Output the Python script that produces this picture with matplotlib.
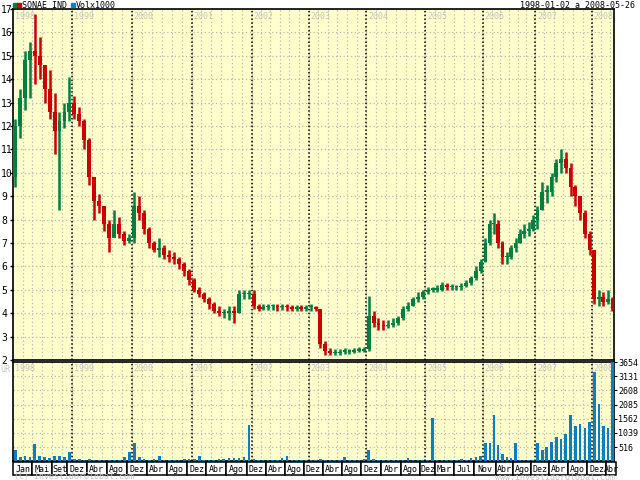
import matplotlib
matplotlib.use("Agg")
import matplotlib.pyplot as plt
import matplotlib.dates as mdates
import matplotlib.transforms as mtrans
from matplotlib.patches import Rectangle
import numpy as np
import pandas as pd

# monthly bars, Jan 1998 .. May 2008
months = pd.date_range("1998-01-01", "2008-05-01", freq="MS")
first_open = 9.8
close = [
    12.0, 13.2, 14.8, 15.2, 15.0, 14.6, 13.6, 12.6, 11.8, 12.2, 12.6, 13.0,  # 1998
    12.5, 12.2, 11.4, 9.8, 8.8, 8.6, 7.8, 7.2, 7.8, 7.4, 7.1, 7.2,           # 1999
    8.6, 8.3, 7.6, 7.0, 6.7, 6.8, 6.5, 6.4, 6.3, 6.1, 5.8, 5.4,              # 2000
    5.0, 4.8, 4.6, 4.4, 4.1, 4.0, 4.0, 4.1, 4.0, 4.8, 4.8, 4.8,              # 2001
    4.3, 4.2, 4.25, 4.3, 4.3, 4.25, 4.3, 4.25, 4.2, 4.25, 4.2, 4.25,         # 2002
    4.25, 4.2, 2.7, 2.4, 2.3, 2.3, 2.35, 2.35, 2.35, 2.4, 2.4, 2.45,         # 2003
    3.9, 3.6, 3.5, 3.45, 3.5, 3.6, 3.8, 4.2, 4.3, 4.6, 4.7, 4.9,             # 2004
    5.0, 5.0, 5.0, 5.2, 5.1, 5.1, 5.1, 5.15, 5.3, 5.5, 5.8, 6.2,             # 2005
    7.0, 7.8, 7.8, 7.0, 6.4, 6.4, 6.8, 7.0, 7.4, 7.5, 7.6, 8.0,              # 2006
    8.4, 9.2, 9.2, 9.8, 10.4, 10.6, 10.2, 9.4, 9.0, 8.3, 7.4, 6.7,           # 2007
    4.6, 4.7, 4.5, 4.6, 4.2,                                                 # 2008
]
high = [
    12.3, 13.6, 15.2, 15.6, 16.8, 15.8, 14.6, 14.4, 13.4, 12.6, 13.0, 14.1,
    13.3, 12.8, 12.3, 11.5, 9.8, 9.1, 8.6, 8.0, 8.4, 8.1, 7.5, 7.4,
    9.2, 9.0, 8.4, 7.7, 7.1, 7.2, 6.9, 6.7, 6.6, 6.4, 6.2, 5.9,
    5.5, 5.1, 4.9, 4.7, 4.5, 4.3, 4.2, 4.3, 4.3, 5.0, 5.0, 5.0,
    5.0, 4.4, 4.4, 4.4, 4.4, 4.4, 4.4, 4.4, 4.35, 4.35, 4.35, 4.35,
    4.4, 4.3, 4.2, 2.8, 2.5, 2.45, 2.45, 2.5, 2.45, 2.5, 2.55, 2.55,
    4.75, 4.1, 3.8, 3.7, 3.7, 3.8, 3.9, 4.3, 4.5, 4.7, 4.9, 5.0,
    5.1, 5.1, 5.2, 5.35, 5.3, 5.25, 5.2, 5.3, 5.4, 5.6, 6.0, 6.3,
    7.2, 8.0, 8.3, 8.0, 7.1, 6.6, 6.9, 7.2, 7.6, 7.8, 7.9, 8.2,
    8.6, 9.6, 9.5, 10.0, 10.6, 11.0, 10.9, 10.4, 9.5, 9.0, 8.4, 7.5,
    6.7, 5.0, 4.9, 5.0, 4.7,
]
low = [
    9.4, 11.5, 12.7, 13.2, 13.8, 14.0, 13.0, 12.3, 10.8, 8.4, 11.9, 12.2,
    12.3, 12.0, 11.0, 9.5, 8.0, 8.3, 7.5, 6.6, 7.3, 7.2, 6.9, 7.0,
    7.0, 8.0, 7.4, 6.8, 6.6, 6.4, 6.3, 6.2, 6.1, 5.9, 5.6, 5.2,
    4.9, 4.7, 4.5, 4.2, 4.0, 3.9, 3.8, 3.7, 3.6, 4.0, 4.6, 4.6,
    4.2, 4.1, 4.15, 4.15, 4.15, 4.1, 4.15, 4.1, 4.1, 4.1, 4.1, 4.1,
    4.1, 4.1, 2.5, 2.2, 2.2, 2.2, 2.2, 2.25, 2.25, 2.3, 2.35, 2.35,
    2.4, 3.4, 3.3, 3.3, 3.35, 3.4, 3.5, 3.7, 4.1, 4.3, 4.5, 4.6,
    4.8, 4.9, 4.9, 4.95, 5.0, 5.0, 5.0, 5.0, 5.1, 5.2, 5.4, 5.7,
    6.2, 6.9, 7.4, 6.8, 6.1, 6.1, 6.3, 6.6, 7.0, 7.2, 7.3, 7.5,
    7.6, 8.4, 8.7, 9.0, 9.6, 10.0, 10.0, 9.0, 8.6, 8.0, 7.2, 6.5,
    4.4, 4.3, 4.3, 4.4, 4.1,
]
volume = [
    400, 150, 200, 150, 620, 200, 150, 120, 200, 180, 150, 350,
    80, 60, 50, 60, 50, 40, 40, 40, 40, 50, 150, 350,
    670, 150, 60, 50, 60, 170, 40, 40, 30, 40, 60, 80,
    60, 180, 40, 40, 50, 60, 60, 110, 110, 100, 150, 1320,
    80, 40, 40, 50, 40, 40, 110, 200, 40, 40, 30, 30,
    30, 30, 80, 40, 30, 30, 30, 150, 30, 30, 40, 60,
    400, 60, 40, 30, 30, 40, 30, 30, 120, 40, 30, 30,
    30, 1580, 30, 20, 20, 30, 30, 60, 30, 100, 150, 200,
    660, 650, 1690, 600, 250, 150, 100, 650, 30, 20, 20, 20,
    650, 400, 500, 700, 900, 800, 1000, 1700, 1300, 1350, 1200, 1450,
    3300, 2100, 1300, 1200, 3654,
]
price_ticks = list(range(2, 18))
vol_ticks = [516, 1039, 1562, 2085, 2608, 3131, 3654]
years = list(range(1998, 2009))
box_labels = ["Jan", "Mai", "Set", "Dez", "Abr", "Ago", "Dez", "Abr", "Ago", "Dez",
              "Abr", "Ago", "Dez", "Abr", "Ago", "Dez", "Abr", "Ago", "Dez", "Abr",
              "Ago", "Dez", "Mar", "Jul", "Nov", "Abr", "Ago", "Dez", "Abr", "Ago",
              "Dez", "Abr"]
box_starts = ["1998-01", "1998-05", "1998-09", "1998-12", "1999-04", "1999-08", "1999-12",
              "2000-04", "2000-08", "2000-12", "2001-04", "2001-08", "2001-12", "2002-04",
              "2002-08", "2002-12", "2003-04", "2003-08", "2003-12", "2004-04", "2004-08",
              "2004-12", "2005-03", "2005-07", "2005-11", "2006-04", "2006-08", "2006-12",
              "2007-04", "2007-08", "2007-12", "2008-04"]

START, END = pd.Timestamp("1998-01-01"), pd.Timestamp("2008-05-27")

# the source chart is spaced by trading day, so year widths differ a little
anchor_d = mdates.date2num([pd.Timestamp(f"{y}-01-01") for y in years] + [END])
anchor_p = np.array([13, 72, 132, 192, 252, 309, 367, 426, 484, 536, 593, 615], float)
slope = 58.0 / 365.0


def fwd(x):
    x = np.asarray(x, float)
    y = np.interp(x, anchor_d, anchor_p)
    y = y + np.where(x > anchor_d[-1], (x - anchor_d[-1]) * slope, 0)
    y = y + np.where(x < anchor_d[0], (x - anchor_d[0]) * slope, 0)
    return y


def inv(p):
    p = np.asarray(p, float)
    x = np.interp(p, anchor_p, anchor_d)
    x = x + np.where(p > anchor_p[-1], (p - anchor_p[-1]) / slope, 0)
    x = x + np.where(p < anchor_p[0], (p - anchor_p[0]) / slope, 0)
    return x


MONO = "DejaVu Sans Mono"
BG = "#ffffcc"
GRID = "#b8b8b8"
GREY_TXT = "#c4c4c4"
GREEN, RED, BLUE = "#008040", "#cc0000", "#0a80c4"
FS = 6
plt.rcParams["font.family"] = MONO

fig = plt.figure(figsize=(6.4, 4.8), dpi=100)
W, H = 640.0, 480.0
ax = fig.add_axes([13 / W, 1 - 360 / H, 601 / W, 351 / H])
axv = fig.add_axes([13 / W, 1 - 461 / H, 601 / W, 99 / H])
axm = fig.add_axes([13 / W, 1 - 475 / H, 601 / W, 13 / H])

x = mdates.date2num(months + pd.Timedelta(days=15))
opens = [first_open] + close[:-1]
cols = [GREEN if c >= o else RED for o, c in zip(opens, close)]

for a in (ax, axv, axm):
    a.set_xscale("function", functions=(fwd, inv))
    a.set_xlim(mdates.date2num(START), mdates.date2num(END))

# price panel
ax.set_facecolor(BG)
ax.vlines(x, low, high, colors=cols, lw=1.8, zorder=3)
body_lo = np.minimum(opens, close)
body_h = np.maximum(np.abs(np.array(close) - np.array(opens)), 0.06)
ax.bar(x, body_h, bottom=body_lo, width=24, color=cols, zorder=3)
ax.set_ylim(2, 17)
ax.set_yticks(price_ticks)
ax.set_yticklabels([str(v) for v in price_ticks])
ax.tick_params(axis="y", length=2.2, pad=6.4, labelsize=FS + 1, width=1)
for lbl in ax.get_yticklabels():
    lbl.set_horizontalalignment("left")
ax.yaxis.grid(True, ls=(0, (1, 2)), color=GRID, lw=0.9)

# volume panel
axv.set_facecolor(BG)
axv.bar(x, volume, width=17, color=BLUE, zorder=3)
axv.set_ylim(0, 3654)
axv.set_yticks(vol_ticks)
axv.yaxis.tick_right()
axv.tick_params(axis="y", length=2, pad=1, labelsize=FS)
axv.yaxis.grid(True, ls=(0, (1, 2)), color=GRID, lw=0.9)

for a in (ax, axv):
    a.set_xticks(mdates.date2num(pd.date_range("1998-03-01", "2008-05-01", freq="2MS")))
    a.tick_params(axis="x", labelbottom=False, length=0)
    a.xaxis.grid(True, ls=(0, (1, 2)), color=GRID, lw=0.9)
    for y in years[1:]:
        a.axvline(mdates.date2num(pd.Timestamp(f"{y}-01-01")), color="black",
                  ls=(0, (1, 1.5)), lw=1.1, zorder=2)
    for s in a.spines.values():
        s.set_linewidth(1.2)

tr_p = mtrans.blended_transform_factory(ax.transData, ax.transAxes)
tr_v = mtrans.blended_transform_factory(axv.transData, axv.transAxes)
for y in years:
    xd = mdates.date2num(pd.Timestamp(f"{y}-01-01") + pd.Timedelta(days=12))
    ax.text(xd, 0.992, str(y), transform=tr_p, color=GREY_TXT, fontsize=FS,
            va="top", ha="left", zorder=1)
    axv.text(xd, 0.975, str(y), transform=tr_v, color=GREY_TXT, fontsize=FS,
             va="top", ha="left", zorder=1)

# month strip
axm.set_ylim(0, 1)
axm.axis("off")
edges = list(mdates.date2num(pd.to_datetime(box_starts))) + [mdates.date2num(pd.Timestamp("2008-06-10"))]
for lab, x0, x1 in zip(box_labels, edges[:-1], edges[1:]):
    axm.add_patch(Rectangle((x0, 0), x1 - x0, 1, facecolor="white", edgecolor="black",
                            lw=1.1, clip_on=False))
    axm.text((x0 + x1) / 2, 0.45, lab, ha="center", va="center", fontsize=FS, clip_on=False)

# header / footer
for xp, c in ((13, GREEN), (17, RED), (71, BLUE)):
    fig.add_artist(Rectangle((xp / W, 1 - 7 / H), 4 / W, 4 / H, color=c,
                             transform=fig.transFigure))
fig.text(22 / W, 1 - 5 / H, "SONAE IND", fontsize=FS, va="center", ha="left")
fig.text(76 / W, 1 - 5 / H, "Volx1000", fontsize=FS, va="center", ha="left")
fig.text(635 / W, 1 - 5 / H, "1998-01-02 a 2008-05-26", fontsize=FS, va="center", ha="right")
fig.text(0 / W, 1 - 370 / H, "UR", fontsize=FS, va="center", ha="left", color=GREY_TXT)
fig.text(14 / W, 1 - 477 / H, "(C) InvestidorGlobal.com", fontsize=FS, va="center",
         ha="left", color=GREY_TXT)
fig.text(615 / W, 1 - 477 / H, "www.investidorglobal.com", fontsize=FS, va="center",
         ha="right", color=GREY_TXT)

fig.savefig("out.png", dpi=100, facecolor="white")
